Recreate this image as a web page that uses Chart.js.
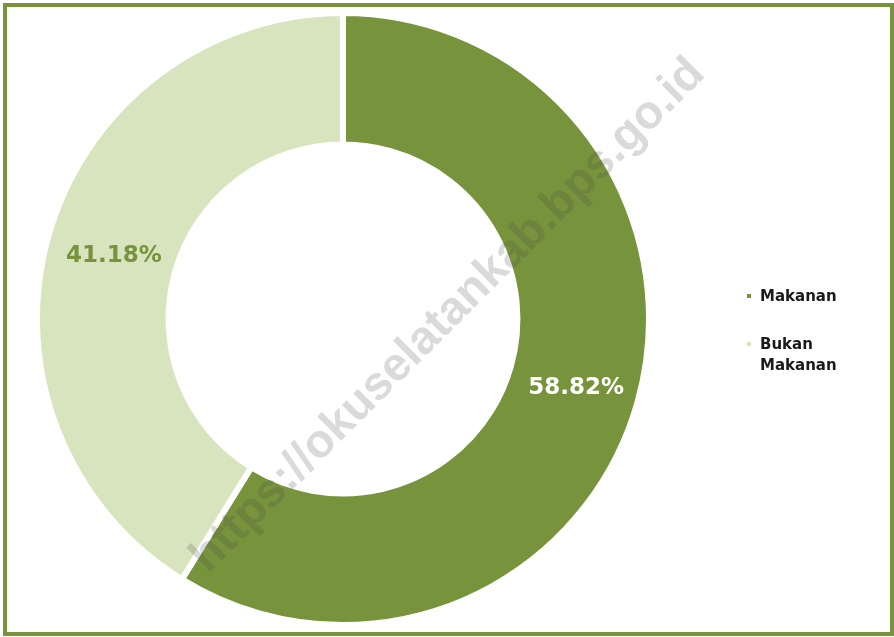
<!DOCTYPE html>
<html>
<head>
<meta charset="utf-8">
<script src="https://cdn.jsdelivr.net/npm/chart.js@4/dist/chart.umd.min.js"></script>
<style>
  html, body { margin: 0; padding: 0; background: #ffffff; }
  #wrap { position: relative; width: 894px; height: 637px; overflow: hidden; }
  #frame { position: absolute; left: 3px; top: 3px; width: 891px; height: 633px; box-sizing: border-box; border: 4px solid #77933C; pointer-events: none; }
  canvas { position: absolute; left: 0; top: 0; }
</style>
</head>
<body>
<div id="wrap">
  <canvas id="c" width="894" height="637"></canvas>
  <div id="frame"></div>
</div>
<script>
const categories = ["Makanan", "Bukan Makanan"];
const legendLines = [["Makanan"], ["Bukan", "Makanan"]];
const shares = [58.82, 41.18];
const valueLabels = ["58.82%", "41.18%"];
const sliceColors = ["#77933C", "#D7E4BD"];
const labelColors = ["#FFFFFF", "#77933C"];
const watermark = "https://okuselatankab.bps.go.id";

const overlay = {
  id: 'overlay',
  afterDatasetsDraw(chart) {
    const ctx = chart.ctx;
    const meta = chart.getDatasetMeta(0);
    ctx.save();
    ctx.font = "bold 23px 'DejaVu Sans'";
    ctx.textAlign = 'center';
    ctx.textBaseline = 'middle';
    meta.data.forEach((arc, i) => {
      const p = arc.tooltipPosition();
      ctx.fillStyle = labelColors[i];
      ctx.fillText(valueLabels[i], p.x + 2, p.y + 3);
    });
    ctx.restore();

    // legend
    ctx.save();
    ctx.font = "bold 15px 'DejaVu Sans'";
    ctx.textAlign = 'left';
    ctx.textBaseline = 'alphabetic';
    const lx = 760, markX = 747;
    let y = 301;
    legendLines.forEach((lines, i) => {
      ctx.fillStyle = sliceColors[i];
      ctx.fillRect(markX, y - 7, 4, 4);
      ctx.fillStyle = '#1a1a1a';
      lines.forEach((t, j) => {
        ctx.fillText(t, lx, y + j * 21);
      });
      y += 48;
    });
    ctx.restore();

    // watermark
    ctx.save();
    ctx.translate(208, 574);
    ctx.rotate(-Math.PI / 4);
    ctx.font = "bold 47px 'Liberation Sans'";
    ctx.fillStyle = 'rgba(70,70,70,0.20)';
    ctx.textAlign = 'left';
    ctx.textBaseline = 'alphabetic';
    ctx.fillText(watermark, 0, 0);
    ctx.restore();
  }
};

new Chart(document.getElementById('c'), {
  type: 'doughnut',
  data: {
    labels: categories,
    datasets: [{
      data: shares,
      backgroundColor: sliceColors,
      borderColor: '#ffffff',
      borderWidth: 6,
      hoverOffset: 0
    }]
  },
  options: {
    responsive: false,
    animation: false,
    cutout: '57%',
    layout: { padding: { left: 32, right: 240, top: 10, bottom: 9 } },
    plugins: {
      legend: { display: false },
      tooltip: { enabled: false },
      title: { display: false }
    },
    events: []
  },
  plugins: [overlay]
});
</script>
</body>
</html>
